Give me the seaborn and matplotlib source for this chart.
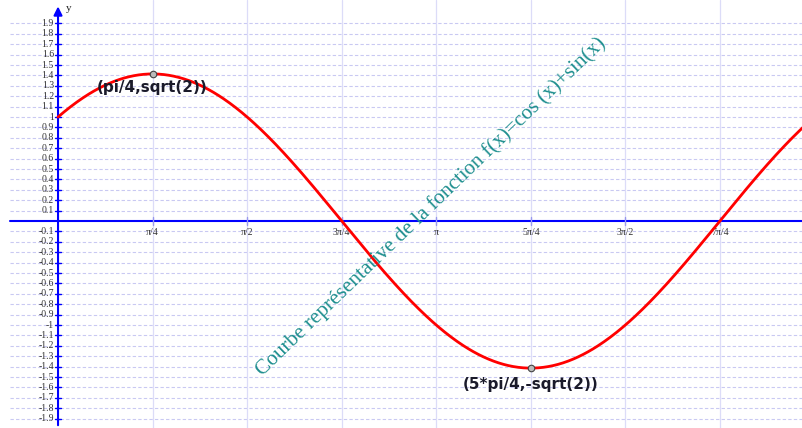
import numpy as np
import pandas as pd
import matplotlib
matplotlib.use("Agg")
import matplotlib.pyplot as plt
import seaborn as sns

# f(x) = cos(x) + sin(x), sampled over the visible window
x_start, x_end = 0.0, 6.19
xs = np.linspace(x_start, x_end, 600)
curve = pd.DataFrame({"x": xs, "y": np.cos(xs) + np.sin(xs)})

# highlighted extrema
extrema_x = [np.pi / 4, 5 * np.pi / 4]
extrema_y = [np.sqrt(2), -np.sqrt(2)]
extrema_labels = ["(pi/4,sqrt(2))", "(5*pi/4,-sqrt(2))"]

# axis ticks
x_tick_vals = [k * np.pi / 4 for k in range(1, 8)]
x_tick_labels = ["π/4", "π/2", "3π/4", "π", "5π/4", "3π/2", "7π/4"]
y_tick_vals = [round(v / 10, 1) for v in range(-19, 20) if v != 0]

title = "Courbe représentative de la fonction f(x)=cos (x)+sin(x)"

sns.set_style("white")
fig = plt.figure(figsize=(8.03, 4.28), dpi=100)
ax = fig.add_axes([0, 0, 1, 1])
xmin, xmax = -0.482, 6.188
ymin, ymax = -1.99, 2.125
ax.set_xlim(xmin, xmax)
ax.set_ylim(ymin, ymax)
ax.axis("off")

grid_left = -0.40
blue = "#0000ff"
# grid
for v in y_tick_vals:
    ax.plot([grid_left, xmax], [v, v], color="#c9c9f2", lw=0.8,
            ls=(0, (3, 2)), zorder=0)
for v in x_tick_vals:
    ax.plot([v, v], [ymin, ymax], color="#dcdcf8", lw=0.9, zorder=0)

# axes lines
ax.plot([grid_left, xmax], [0, 0], color=blue, lw=1.5, zorder=2)
ax.annotate("", xy=(0, 2.09), xytext=(0, ymin),
            arrowprops=dict(arrowstyle="-|>,head_length=0.5,head_width=0.25",
                            color=blue, lw=1.5), zorder=2)
ax.text(0.065, 2.04, "y", fontsize=8, family="Liberation Serif",
        ha="left", va="center", color="#222222")

# y ticks
for v in y_tick_vals:
    ax.plot([-0.025, 0.025], [v, v], color=blue, lw=1.0, zorder=2)
    lab = f"{v:g}"
    ax.text(-0.035, v, lab, fontsize=7, family="Liberation Serif",
            ha="right", va="center", color="#333333")
# x ticks
for v, lab in zip(x_tick_vals, x_tick_labels):
    ax.plot([v, v], [-0.04, 0.04], color="#9999ee", lw=1.0, zorder=2)
    ax.text(v, -0.07, lab, fontsize=7, family="Liberation Serif",
            ha="center", va="top", color="#333333")

# the curve
sns.lineplot(data=curve, x="x", y="y", color="#ff0000", lw=2,
             ax=ax, zorder=3, legend=False)

# extrema markers and labels
sns.scatterplot(x=extrema_x, y=extrema_y, s=22, color="#bbbbbb",
                edgecolor="#444444", linewidth=0.8, ax=ax, zorder=4)
ax.text(extrema_x[0], extrema_y[0] - 0.13, extrema_labels[0],
        fontsize=11, fontweight="bold", family="DejaVu Sans",
        ha="center", va="center", color="#1a1a2a", zorder=5)
ax.text(extrema_x[1], extrema_y[1] - 0.16, extrema_labels[1],
        fontsize=11, fontweight="bold", family="DejaVu Sans",
        ha="center", va="center", color="#1a1a2a", zorder=5)

# rotated caption
ax.text(3.10, 0.135, title, fontsize=15.3, family="Liberation Serif",
        color="#1f8f8f", rotation=44, rotation_mode="anchor",
        ha="center", va="center", zorder=5)

fig.savefig("out.png", dpi=100)
